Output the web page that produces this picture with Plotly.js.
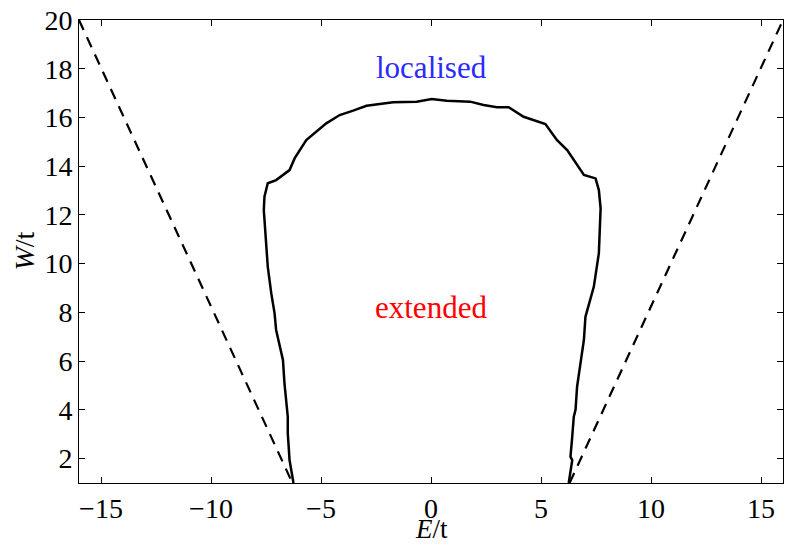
<!DOCTYPE html>
<html>
<head>
<meta charset="utf-8">
<script src="https://cdn.plot.ly/plotly-3.0.1.min.js"></script>
<style>html,body{margin:0;padding:0;background:#fff;}#chart{width:789px;height:546px;}</style>
</head>
<body>
<div id="chart"></div>
<script>
// Phase boundary (mobility edge) E/t vs W/t
const boundaryE = [-6.25,-6.36,-6.43,-6.47,-6.51,-6.51,-6.58,-6.66,-6.73,-6.89,-7.04,-7.11,-7.26,-7.42,-7.52,-7.60,-7.57,-7.42,-7.04,-6.43,-6.20,-5.67,-4.76,-4.15,-3.54,-2.93,-2.33,-1.72,-0.65,0.03,0.72,1.78,2.39,3.00,3.53,4.21,5.20,5.73,6.19,6.95,7.48,7.63,7.71,7.63,7.40,7.02,6.95,6.79,6.64,6.57,6.49,6.42,6.34,6.42,6.26];
const boundaryW = [1.00,1.60,1.94,2.50,3.04,3.72,4.27,5.09,6.05,6.73,7.28,7.96,8.78,9.88,11.10,12.20,12.75,13.30,13.43,13.84,14.32,15.07,15.76,16.10,16.28,16.48,16.55,16.62,16.65,16.76,16.69,16.65,16.51,16.42,16.42,16.03,15.73,15.07,14.66,13.64,13.50,13.02,12.27,10.43,9.05,7.82,6.87,5.91,4.95,4.00,3.72,2.90,2.08,1.94,1.00];
// Band edges (dashed)
const leftEdgeE = [-16, -6.3];
const leftEdgeW = [20, 1];
const rightEdgeE = [6.3, 16];
const rightEdgeW = [1, 20];
const xTicks = [-15, -10, -5, 0, 5, 10, 15];
const yTicks = [2, 4, 6, 8, 10, 12, 14, 16, 18, 20];
const labels = [
  {text: 'localised', E: 0, W: 18.05, color: '#2b2bff'},
  {text: 'extended', E: 0, W: 8.2, color: '#ff0000'}
];

const FONT = 'Liberation Serif';
const traces = [
  {x: boundaryE, y: boundaryW, mode: 'lines', line: {color: '#000', width: 2.5}, hoverinfo: 'skip'},
  {x: leftEdgeE, y: leftEdgeW, mode: 'lines', line: {color: '#000', width: 2.2, dash: '11px,8px'}, hoverinfo: 'skip'},
  {x: rightEdgeE, y: rightEdgeW, mode: 'lines', line: {color: '#000', width: 2.2, dash: '11px,8px'}, hoverinfo: 'skip'}
];
const layout = {
  width: 789, height: 546,
  margin: {l: 79, r: 6, t: 20, b: 63},
  paper_bgcolor: '#fff', plot_bgcolor: '#fff',
  showlegend: false,
  font: {family: FONT, color: '#000', size: 28},
  xaxis: {
    range: [-16, 16], tickvals: xTicks, ticks: 'inside', ticklen: 6, tickcolor: '#000',
    showline: true, linecolor: '#000', linewidth: 1, mirror: 'ticks', showgrid: false, zeroline: false,
    tickfont: {family: FONT, size: 28, color: '#000'}
  },
  yaxis: {
    range: [1, 20], tickvals: yTicks, ticks: 'inside', ticklen: 6, tickcolor: '#000',
    showline: true, linecolor: '#000', linewidth: 1, mirror: 'ticks', showgrid: false, zeroline: false,
    tickfont: {family: FONT, size: 28, color: '#000'}
  },
  annotations: labels.map(l => ({x: l.E, y: l.W, text: l.text, showarrow: false, font: {family: FONT, size: 31, color: l.color}})).concat([
    {xref: 'paper', yref: 'paper', x: 0.5, y: -0.099, yanchor: 'middle', text: '<i>E</i>/t', showarrow: false, font: {family: FONT, size: 27, color: '#000'}},
    {xref: 'paper', yref: 'paper', x: -0.078, y: 0.5, xanchor: 'center', yanchor: 'middle', text: '<i>W</i>/t', textangle: -90, showarrow: false, font: {family: FONT, size: 28, color: '#000'}}
  ])
};
Plotly.newPlot('chart', traces, layout, {displayModeBar: false, staticPlot: true});
</script>
</body>
</html>
